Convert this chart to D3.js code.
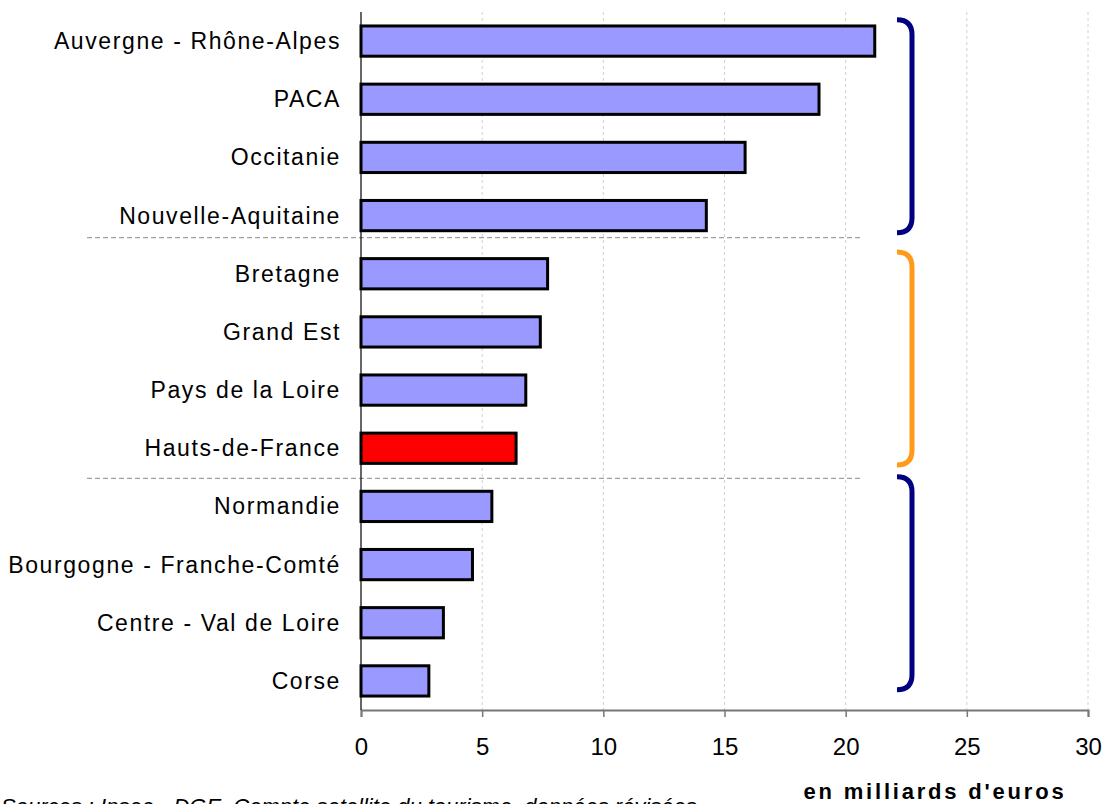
<!DOCTYPE html>
<html>
<head>
<meta charset="utf-8">
<script src="https://cdn.jsdelivr.net/npm/d3@7"></script>
<style>
  body { margin: 0; background: #fff; }
  svg { display: block; font-family: Arial, "Liberation Sans", sans-serif; }
</style>
</head>
<body>
<div id="chart"></div>
<script>
// regions, top to bottom
const regions = [
    'Auvergne - Rhône-Alpes', 'PACA', 'Occitanie', 'Nouvelle-Aquitaine',
    'Bretagne', 'Grand Est', 'Pays de la Loire', 'Hauts-de-France',
    'Normandie', 'Bourgogne - Franche-Comté', 'Centre - Val de Loire', 'Corse'
];
// en milliards d'euros
const values = [21.2, 18.9, 15.85, 14.25, 7.7, 7.4, 6.8, 6.4, 5.4, 4.6, 3.4, 2.8];
const highlight = 'Hauts-de-France';
const xTicks = [0, 5, 10, 15, 20, 25, 30];
// groups shown with braces: first and last region of each
const groups = [
    { from: 'Auvergne - Rhône-Alpes', to: 'Nouvelle-Aquitaine', color: '#000080' },
    { from: 'Bretagne', to: 'Hauts-de-France', color: '#FF9A1A' },
    { from: 'Normandie', to: 'Corse', color: '#000080' }
];
const unitLabel = "en milliards d'euros";
const sourceLabel = 'Sources : Insee - DGE, Compte satellite du tourisme, données révisées';

const W = 1107, H = 804;
const MARGIN = { TOP: 12, LEFT: 361, RIGHT: 19, BOTTOM: 94 };
const WIDTH = W - MARGIN.LEFT - MARGIN.RIGHT;
const HEIGHT = H - MARGIN.TOP - MARGIN.BOTTOM;

const svg = d3.select('#chart').append('svg')
    .attr('width', W)
    .attr('height', H);

const g = svg.append('g')
    .attr('transform', `translate(${MARGIN.LEFT}, ${MARGIN.TOP})`);

const x = d3.scaleLinear().domain([0, 30]).range([0, WIDTH]);
const y = d3.scaleBand().domain(regions).range([0, HEIGHT]).paddingInner(0.48).paddingOuter(0.24);

// vertical dashed gridlines
g.selectAll('line.grid')
    .data(xTicks.slice(1))
    .enter().append('line')
    .attr('class', 'grid')
    .attr('x1', d => x(d)).attr('x2', d => x(d))
    .attr('y1', 0).attr('y2', HEIGHT)
    .attr('stroke', '#d0d0d0')
    .attr('stroke-width', 1)
    .attr('stroke-dasharray', '3,3');

// group separators (a bit under the last bar of each group)
const sepGap = [7, 15];
for (let i = 0; i < groups.length - 1; i++) {
    const yy = y(groups[i].to) + y.bandwidth() + sepGap[i];
    g.append('line')
        .attr('x1', 87 - MARGIN.LEFT).attr('x2', 860 - MARGIN.LEFT)
        .attr('y1', yy).attr('y2', yy)
        .attr('stroke', '#a0a0a0')
        .attr('stroke-width', 1.3)
        .attr('stroke-dasharray', '5,3');
}

// bars
g.selectAll('rect.bar')
    .data(regions)
    .enter().append('rect')
    .attr('class', 'bar')
    .attr('x', 0)
    .attr('y', d => y(d))
    .attr('width', (d, i) => x(values[i]))
    .attr('height', y.bandwidth())
    .attr('fill', d => d === highlight ? '#FF0000' : '#9999FF')
    .attr('stroke', '#000')
    .attr('stroke-width', 3);

// x axis
const xAxis = g.append('g')
    .attr('transform', `translate(0, ${HEIGHT})`)
    .call(d3.axisBottom(x).tickValues(xTicks).tickSize(7).tickPadding(21));
xAxis.select('.domain').attr('stroke', '#777').attr('stroke-width', 2);
xAxis.selectAll('.tick line').attr('stroke', '#777').attr('stroke-width', 1.5);
xAxis.selectAll('.tick text')
    .attr('font-size', 24)
    .attr('font-family', 'Arial, "Liberation Sans", sans-serif')
    .attr('fill', '#000');

// y axis line
g.append('line')
    .attr('x1', 0).attr('x2', 0)
    .attr('y1', 0).attr('y2', HEIGHT)
    .attr('stroke', '#000')
    .attr('stroke-width', 1.2);

// category labels
g.selectAll('text.cat')
    .data(regions)
    .enter().append('text')
    .attr('class', 'cat')
    .attr('x', -20)
    .attr('y', d => y(d) + y.bandwidth() / 2)
    .attr('dy', '0.35em')
    .attr('text-anchor', 'end')
    .attr('font-size', 23)
    .attr('letter-spacing', 1.6)
    .attr('fill', '#000')
    .text(d => d);

// braces
const bx0 = 897 - MARGIN.LEFT, bx1 = 912 - MARGIN.LEFT, r = 15, halfH = 106.5;
const braceShift = [-2, -2.5, -10.5];
groups.forEach((grp, i) => {
    const mid = (y(grp.from) + y(grp.to) + y.bandwidth()) / 2 + braceShift[i];
    const top = mid - halfH;
    const bot = mid + halfH;
    const p = d3.path();
    p.moveTo(bx0, top);
    p.quadraticCurveTo(bx1, top, bx1, top + r);
    p.lineTo(bx1, bot - r);
    p.quadraticCurveTo(bx1, bot, bx0, bot);
    g.append('path')
        .attr('d', p.toString())
        .attr('fill', 'none')
        .attr('stroke', grp.color)
        .attr('stroke-width', 5);
});

// unit label
svg.append('text')
    .attr('x', 935)
    .attr('y', 799)
    .attr('text-anchor', 'middle')
    .attr('font-size', 22)
    .attr('font-weight', 'bold')
    .attr('letter-spacing', 2.8)
    .text(unitLabel);

// source (cut at the bottom like the original)
svg.append('text')
    .attr('x', 1)
    .attr('y', 814)
    .attr('font-size', 22)
    .attr('font-style', 'italic')
    .text(sourceLabel);
</script>
</body>
</html>
